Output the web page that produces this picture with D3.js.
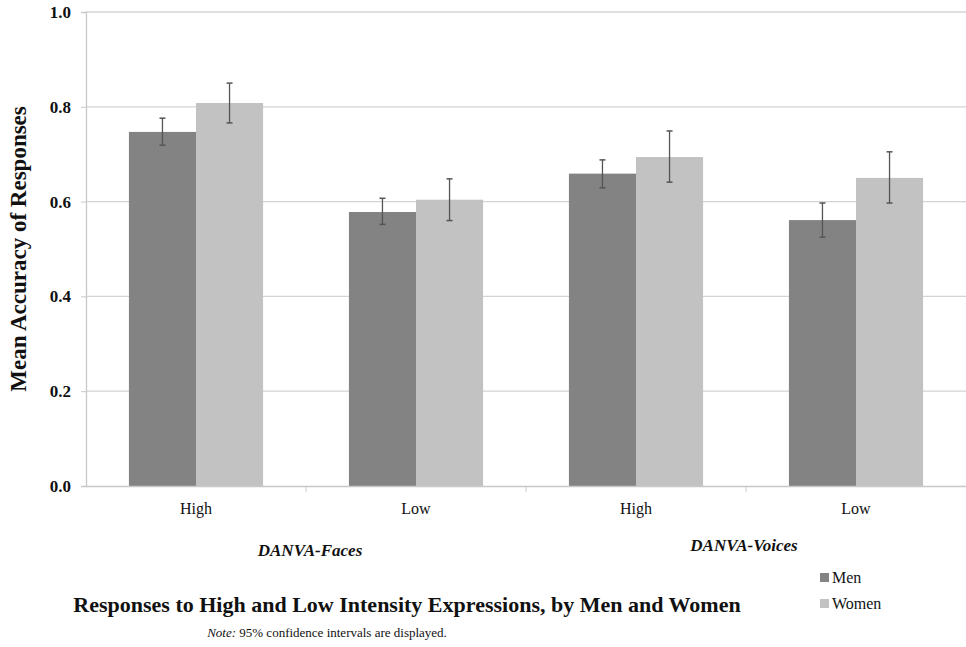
<!DOCTYPE html>
<html>
<head>
<meta charset="utf-8">
<script src="https://cdn.jsdelivr.net/npm/d3@7"></script>
<style>
  body { margin: 0; background: #fff; }
  text { font-family: "Liberation Serif", "Times New Roman", serif; }
</style>
</head>
<body>
<div id="chart"></div>
<script>
(function () {

  // data
  const categories = ["Faces-High", "Faces-Low", "Voices-High", "Voices-Low"]
  const categoryLabels = ["High", "Low", "High", "Low"]
  const groups = ["Men", "Women"]
  const menMeans = [0.747, 0.578, 0.659, 0.561]
  const menLow = [0.719, 0.552, 0.629, 0.525]
  const menHigh = [0.776, 0.607, 0.688, 0.597]
  const womenMeans = [0.808, 0.604, 0.694, 0.650]
  const womenLow = [0.766, 0.560, 0.641, 0.597]
  const womenHigh = [0.850, 0.648, 0.749, 0.705]
  const yTicks = [0, 0.2, 0.4, 0.6, 0.8, 1.0]

  const margin = { top: 12, right: 0, bottom: 161, left: 86 }
  const width = 966 - margin.left - margin.right
  const height = 647 - margin.top - margin.bottom

  const svg = d3.select("#chart").append("svg")
      .attr("width", 966)
      .attr("height", 647)

  const g = svg.append("g")
      .attr("transform", "translate(" + margin.left + "," + margin.top + ")")

  const xScale = d3.scaleBand()
    .domain(categories)
    .range([0, width])
    .paddingInner(0)
    .paddingOuter(0)

  const xInner = d3.scaleBand()
    .domain(groups)
    .range([0, xScale.bandwidth()])
    .paddingInner(0)
    .paddingOuter(0.64)

  const yScale = d3.scaleLinear()
    .domain([0, 1])
    .range([height, 0])

  const colorScale = d3.scaleOrdinal()
    .domain(groups)
    .range(["#838383", "#c2c2c2"])

  // gridlines
  g.selectAll(".grid")
    .data(yTicks.filter(d => d > 0))
    .enter().append("line")
    .attr("class", "grid")
    .attr("x1", 0)
    .attr("x2", width)
    .attr("y1", d => yScale(d))
    .attr("y2", d => yScale(d))
    .attr("stroke", "#d4d4d4")
    .attr("stroke-width", 1.3)

  // build rows
  const rows = []
  categories.forEach((c, i) => {
    rows.push({ cat: c, group: "Men", mean: menMeans[i], lo: menLow[i], hi: menHigh[i] })
    rows.push({ cat: c, group: "Women", mean: womenMeans[i], lo: womenLow[i], hi: womenHigh[i] })
  })

  g.selectAll("rect.bar")
    .data(rows)
    .enter().append("rect")
    .attr("class", "bar")
    .attr("x", d => xScale(d.cat) + xInner(d.group))
    .attr("width", xInner.bandwidth())
    .attr("y", d => yScale(d.mean))
    .attr("height", d => height - yScale(d.mean))
    .attr("fill", d => colorScale(d.group))

  // error bars
  const err = g.selectAll("g.err")
    .data(rows)
    .enter().append("g")
    .attr("class", "err")
    .attr("transform", d => "translate(" + (xScale(d.cat) + xInner(d.group) + xInner.bandwidth() / 2) + ",0)")

  err.append("line")
    .attr("y1", d => yScale(d.lo))
    .attr("y2", d => yScale(d.hi))
    .attr("stroke", "#555")
    .attr("stroke-width", 1.3)
  err.append("line")
    .attr("x1", -3).attr("x2", 3)
    .attr("y1", d => yScale(d.hi)).attr("y2", d => yScale(d.hi))
    .attr("stroke", "#555").attr("stroke-width", 1.5)
  err.append("line")
    .attr("x1", -3).attr("x2", 3)
    .attr("y1", d => yScale(d.lo)).attr("y2", d => yScale(d.lo))
    .attr("stroke", "#555").attr("stroke-width", 1.5)

  // y axis
  const yAxis = d3.axisLeft(yScale)
    .tickValues(yTicks)
    .tickFormat(d3.format(".1f"))
    .tickSize(5)
    .tickPadding(10)
  const ya = g.append("g").attr("class", "axis y-axis").call(yAxis)
  ya.select(".domain").attr("stroke", "#c8c8c8").attr("stroke-width", 1.3)
  ya.selectAll(".tick line").attr("stroke", "#c8c8c8")
  ya.selectAll(".tick text")
    .style("font-family", "Liberation Serif")
    .style("font-size", "17px")
    .style("font-weight", "bold")
    .attr("fill", "#111")

  // x axis
  const xAxis = d3.axisBottom(xScale)
    .tickSize(0)
    .tickPadding(17)
    .tickFormat((d, i) => categoryLabels[i])
  const xa = g.append("g")
    .attr("class", "axis x-axis")
    .attr("transform", "translate(0," + height + ")")
    .call(xAxis)
  xa.select(".domain").attr("stroke", "#c8c8c8").attr("stroke-width", 1.3)
  xa.selectAll(".tick text")
    .style("font-family", "Liberation Serif")
    .style("font-size", "16px")
    .attr("fill", "#111")

  // boundary ticks
  xa.selectAll(".bound")
    .data(categories.slice(1))
    .enter().append("line")
    .attr("class", "bound")
    .attr("x1", d => xScale(d))
    .attr("x2", d => xScale(d))
    .attr("y1", 0)
    .attr("y2", 6)
    .attr("stroke", "#c8c8c8")

  // y axis title
  svg.append("text")
    .attr("transform", "translate(26," + (margin.top + height / 2) + ") rotate(-90)")
    .attr("text-anchor", "middle")
    .style("font-size", "23px")
    .style("font-weight", "bold")
    .attr("fill", "#111")
    .text("Mean Accuracy of Responses")

  // group labels
  svg.append("text")
    .attr("x", 310).attr("y", 556)
    .attr("text-anchor", "middle")
    .style("font-size", "17px")
    .style("font-weight", "bold")
    .style("font-style", "italic")
    .attr("fill", "#111")
    .text("DANVA-Faces")

  svg.append("text")
    .attr("x", 744).attr("y", 551)
    .attr("text-anchor", "middle")
    .style("font-size", "17px")
    .style("font-weight", "bold")
    .style("font-style", "italic")
    .attr("fill", "#111")
    .text("DANVA-Voices")

  // chart title
  svg.append("text")
    .attr("x", 407).attr("y", 612)
    .attr("text-anchor", "middle")
    .style("font-size", "22px")
    .style("font-weight", "bold")
    .attr("fill", "#111")
    .text("Responses to High and Low Intensity Expressions, by Men and Women")

  // note
  const note = svg.append("text")
    .attr("x", 327).attr("y", 637)
    .attr("text-anchor", "middle")
    .style("font-size", "13px")
    .attr("fill", "#111")
  note.append("tspan").style("font-style", "italic").text("Note:")
  note.append("tspan").text(" 95% confidence intervals are displayed.")

  // legend
  const legend = svg.selectAll("g.legend")
    .data(groups)
    .enter().append("g")
    .attr("class", "legend")
    .attr("transform", (d, i) => "translate(820," + (573 + i * 26) + ")")
  legend.append("rect")
    .attr("width", 9).attr("height", 9)
    .attr("fill", d => colorScale(d))
  legend.append("text")
    .attr("x", 12).attr("y", 10)
    .style("font-size", "16px")
    .attr("fill", "#111")
    .text(d => d)

})();
</script>
</body>
</html>
